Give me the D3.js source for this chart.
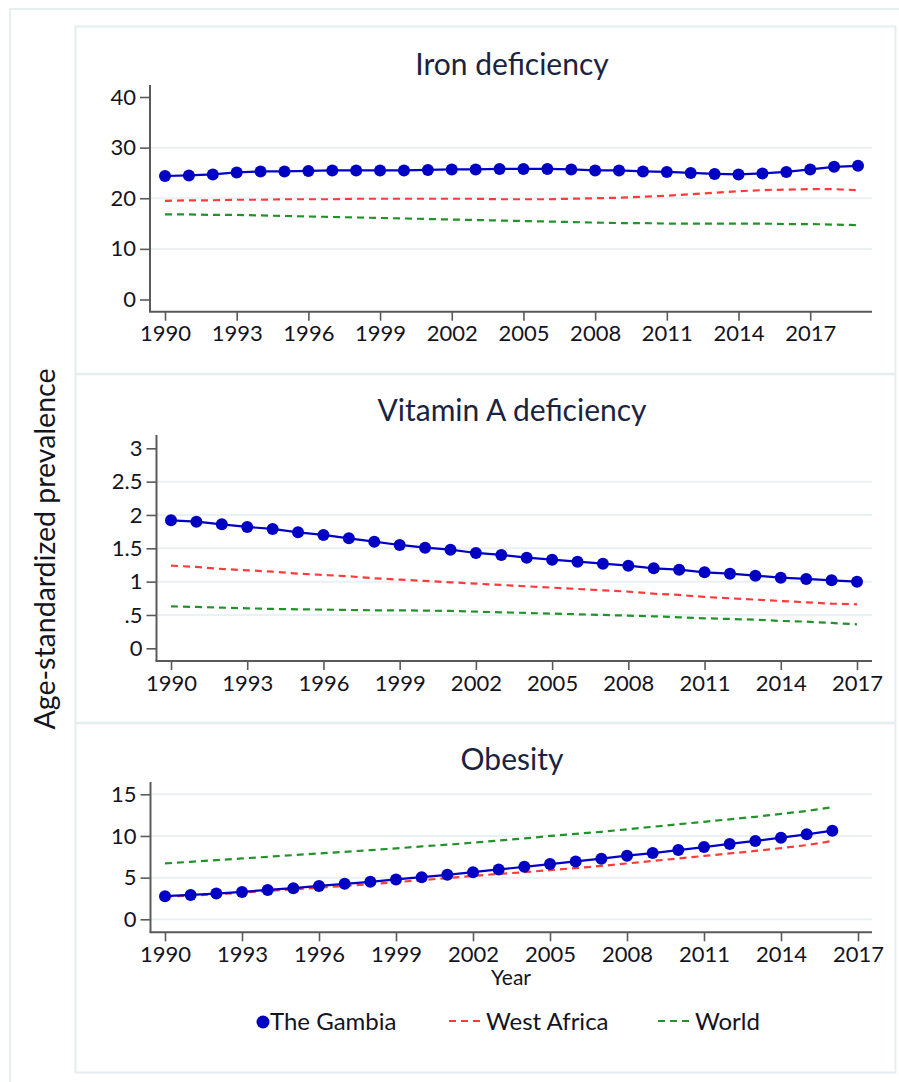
<!DOCTYPE html>
<html>
<head>
<meta charset="utf-8">
<script src="https://cdn.jsdelivr.net/npm/d3@7"></script>
<style>
  html, body { margin: 0; padding: 0; background: #fff; }
  svg { display: block; font-family: Lato, "Open Sans", sans-serif; }
</style>
</head>
<body>
<svg id="chart" width="899" height="1082"></svg>
<script>
// Age-standardized prevalence, The Gambia vs West Africa vs World

const ironYears = d3.range(1990, 2020);
const ironGambia = [24.4, 24.5, 24.7, 25.1, 25.3, 25.3, 25.4, 25.5, 25.5, 25.5,
                    25.5, 25.6, 25.7, 25.7, 25.8, 25.8, 25.8, 25.7, 25.5, 25.5,
                    25.3, 25.2, 25.0, 24.8, 24.7, 24.9, 25.2, 25.7, 26.2, 26.4];
const ironWestAfrica = [19.5, 19.6, 19.6, 19.7, 19.7, 19.8, 19.8, 19.8, 19.9, 19.9,
                        19.9, 19.9, 19.9, 19.9, 19.8, 19.8, 19.8, 19.9, 20.0, 20.1,
                        20.3, 20.5, 20.8, 21.1, 21.4, 21.6, 21.7, 21.8, 21.8, 21.6];
const ironWorld = [16.8, 16.8, 16.7, 16.7, 16.6, 16.5, 16.4, 16.3, 16.2, 16.1,
                   16.0, 15.9, 15.8, 15.7, 15.6, 15.5, 15.4, 15.3, 15.2, 15.1,
                   15.1, 15.0, 15.0, 15.0, 15.0, 15.0, 14.9, 14.9, 14.8, 14.7];

const vitAYears = d3.range(1990, 2018);
const vitAGambia = [1.92, 1.90, 1.86, 1.82, 1.79, 1.74, 1.70, 1.65, 1.60, 1.55,
                    1.51, 1.48, 1.43, 1.40, 1.36, 1.33, 1.30, 1.27, 1.24, 1.20,
                    1.18, 1.14, 1.12, 1.09, 1.06, 1.04, 1.02, 1.00];
const vitAWestAfrica = [1.24, 1.22, 1.19, 1.17, 1.15, 1.12, 1.10, 1.08, 1.05, 1.03,
                        1.01, 0.99, 0.97, 0.95, 0.93, 0.91, 0.89, 0.87, 0.85, 0.82,
                        0.80, 0.77, 0.75, 0.73, 0.71, 0.69, 0.67, 0.66];
const vitAWorld = [0.63, 0.62, 0.61, 0.60, 0.59, 0.585, 0.58, 0.575, 0.57, 0.57,
                   0.565, 0.56, 0.55, 0.54, 0.53, 0.52, 0.51, 0.50, 0.49, 0.48,
                   0.465, 0.45, 0.44, 0.43, 0.41, 0.40, 0.38, 0.36];

const obesityYears = d3.range(1990, 2017);
const obesityGambia = [2.77, 2.93, 3.09, 3.29, 3.53, 3.73, 4.00, 4.26, 4.50, 4.78,
                       5.06, 5.34, 5.66, 5.98, 6.30, 6.63, 6.95, 7.27, 7.63, 7.95,
                       8.31, 8.67, 9.04, 9.40, 9.80, 10.20, 10.64];
const obesityWestAfrica = [2.70, 2.85, 3.00, 3.20, 3.40, 3.60, 3.80, 4.00, 4.20, 4.45,
                           4.70, 4.95, 5.20, 5.45, 5.65, 5.90, 6.15, 6.40, 6.70, 7.00,
                           7.30, 7.60, 7.90, 8.20, 8.55, 8.90, 9.40];
const obesityWorld = [6.70, 6.90, 7.10, 7.30, 7.50, 7.70, 7.90, 8.10, 8.30, 8.50,
                      8.75, 8.95, 9.20, 9.45, 9.70, 10.00, 10.25, 10.50, 10.80, 11.10,
                      11.40, 11.70, 12.00, 12.30, 12.65, 13.00, 13.45];

const panelTitles = ["Iron deficiency", "Vitamin A deficiency", "Obesity"];
const xTickYears = d3.range(1990, 2018, 3);
const ironYTicks = [0, 10, 20, 30, 40];
const vitAYTicks = [0, 0.5, 1, 1.5, 2, 2.5, 3];
const obesityYTicks = [0, 5, 10, 15];
const seriesNames = ["The Gambia", "West Africa", "World"];

const colors = { gambia: "#0000c4", westAfrica: "#ff3b3b", world: "#22922a" };
const gridColor = "#e9f1f4";
const axisColor = "#5a5a5a";
const textColor = "#14141e";

const svg = d3.select("#chart");

// outer and inner frames
svg.append("path")
  .attr("d", "M10,1082 V9 H899")
  .attr("fill", "none").attr("stroke", "#e6eff2").attr("stroke-width", 2);
svg.append("rect")
  .attr("x", 75.5).attr("y", 26.5).attr("width", 820).attr("height", 1046)
  .attr("fill", "#fff").attr("stroke", "#e4edf0").attr("stroke-width", 2);
[374, 723].forEach(y => {
  svg.append("line")
    .attr("x1", 76).attr("x2", 895).attr("y1", y).attr("y2", y)
    .attr("stroke", "#e4edf0").attr("stroke-width", 2.5);
});

const panels = [
  {
    title: panelTitles[0], years: ironYears,
    gambia: ironGambia, westAfrica: ironWestAfrica, world: ironWorld,
    yTicks: ironYTicks, grid: [10, 20, 30], yFormat: d => String(d),
    xDomain: [1990, 2019], xRange: [165, 858],
    yDomain: [0, 40], yRange: [299.5, 97],
    axisX: 150, axisTop: 85, axisBottom: 311.7, axisRight: 872, titleY: 75
  },
  {
    title: panelTitles[1], years: vitAYears,
    gambia: vitAGambia, westAfrica: vitAWestAfrica, world: vitAWorld,
    yTicks: vitAYTicks, grid: [0.5, 1, 1.5, 2, 2.5],
    yFormat: d => d === 0.5 ? ".5" : String(d),
    xDomain: [1990, 2017], xRange: [171, 857],
    yDomain: [0, 3], yRange: [648.3, 448.3],
    axisX: 156.5, axisTop: 435, axisBottom: 661, axisRight: 872, titleY: 421
  },
  {
    title: panelTitles[2], years: obesityYears,
    gambia: obesityGambia, westAfrica: obesityWestAfrica, world: obesityWorld,
    yTicks: obesityYTicks, grid: [0, 5, 10, 15], yFormat: d => String(d),
    xDomain: [1990, 2017], xRange: [165, 858],
    yDomain: [0, 15], yRange: [919.3, 794.3],
    axisX: 150.5, axisTop: 782, axisBottom: 932.3, axisRight: 872, titleY: 770
  }
];

panels.forEach(p => {
  const g = svg.append("g");
  const x = d3.scaleLinear().domain(p.xDomain).range(p.xRange);
  const y = d3.scaleLinear().domain(p.yDomain).range(p.yRange);

  g.append("text")
    .attr("x", 512).attr("y", p.titleY)
    .attr("text-anchor", "middle")
    .attr("font-size", 30).attr("fill", "#1a2340")
    .text(p.title);

  // horizontal grid
  g.selectAll(".grid").data(p.grid).join("line")
    .attr("x1", p.axisX + 1).attr("x2", p.axisRight)
    .attr("y1", d => y(d)).attr("y2", d => y(d))
    .attr("stroke", gridColor).attr("stroke-width", 2);

  // y axis
  const yAxis = d3.axisLeft(y).tickValues(p.yTicks).tickFormat(p.yFormat)
    .tickSize(10).tickPadding(4);
  const ya = g.append("g").attr("transform", `translate(${p.axisX},0)`).call(yAxis);
  ya.select(".domain").remove();
  ya.append("line")
    .attr("x1", 0).attr("x2", 0).attr("y1", p.axisTop).attr("y2", p.axisBottom)
    .attr("stroke", axisColor).attr("stroke-width", 2);

  // x axis
  const xAxis = d3.axisBottom(x).tickValues(xTickYears).tickFormat(d3.format("d"))
    .tickSize(9).tickPadding(5);
  const xa = g.append("g").attr("transform", `translate(0,${p.axisBottom})`).call(xAxis);
  xa.select(".domain").remove();
  xa.append("line")
    .attr("x1", p.axisX - 1).attr("x2", p.axisRight).attr("y1", 0).attr("y2", 0)
    .attr("stroke", axisColor).attr("stroke-width", 2);

  [ya, xa].forEach(a => {
    a.selectAll(".tick line").attr("stroke", axisColor).attr("stroke-width", 1.6);
    a.selectAll(".tick text").attr("font-size", 22).attr("fill", textColor)
      .attr("font-family", "Lato, sans-serif");
  });

  const line = vals => d3.line()
    .x((d, i) => x(p.years[i]))
    .y(d => y(d))(vals);

  g.append("path").attr("d", line(p.world))
    .attr("fill", "none").attr("stroke", colors.world)
    .attr("stroke-width", 2.2).attr("stroke-dasharray", "7,5");
  g.append("path").attr("d", line(p.westAfrica))
    .attr("fill", "none").attr("stroke", colors.westAfrica)
    .attr("stroke-width", 2.2).attr("stroke-dasharray", "7,5");
  g.append("path").attr("d", line(p.gambia))
    .attr("fill", "none").attr("stroke", colors.gambia).attr("stroke-width", 2.2);
  g.selectAll(".pt").data(p.gambia).join("circle")
    .attr("cx", (d, i) => x(p.years[i])).attr("cy", d => y(d))
    .attr("r", 6).attr("fill", colors.gambia);
});

// shared labels
svg.append("text")
  .attr("transform", "translate(55,549) rotate(-90)")
  .attr("text-anchor", "middle").attr("font-size", 28.5).attr("fill", textColor)
  .text("Age-standardized prevalence");

svg.append("text")
  .attr("x", 511).attr("y", 985).attr("text-anchor", "middle")
  .attr("font-size", 21).attr("fill", textColor)
  .text("Year");

// legend
const legend = svg.append("g").attr("font-size", 24).attr("fill", textColor);
legend.append("circle").attr("cx", 263).attr("cy", 1022).attr("r", 6.5).attr("fill", colors.gambia);
legend.append("text").attr("x", 270).attr("y", 1030).text(seriesNames[0]);
legend.append("line").attr("x1", 449).attr("x2", 484).attr("y1", 1021).attr("y2", 1021)
  .attr("stroke", colors.westAfrica).attr("stroke-width", 2).attr("stroke-dasharray", "7,5");
legend.append("text").attr("x", 486).attr("y", 1030).text(seriesNames[1]);
legend.append("line").attr("x1", 658).attr("x2", 693).attr("y1", 1021).attr("y2", 1021)
  .attr("stroke", colors.world).attr("stroke-width", 2).attr("stroke-dasharray", "7,5");
legend.append("text").attr("x", 695).attr("y", 1030).text(seriesNames[2]);
</script>
</body>
</html>
